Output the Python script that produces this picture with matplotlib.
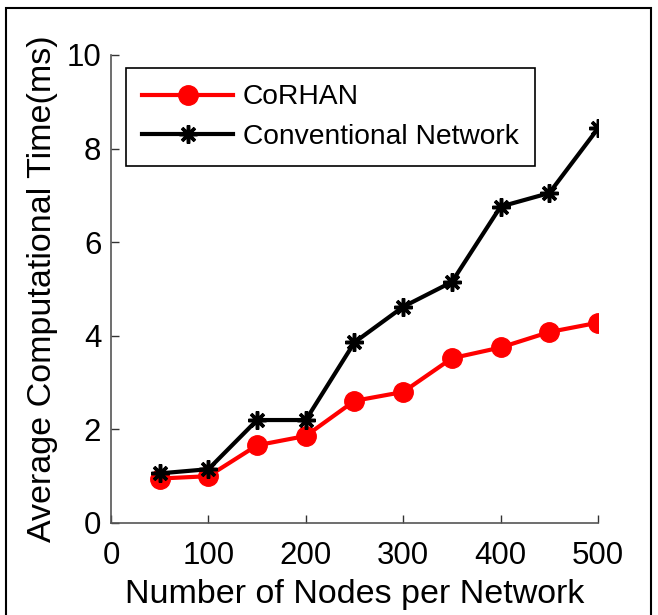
import matplotlib
matplotlib.use("Agg")
import matplotlib.pyplot as plt
from matplotlib.patches import Rectangle

plt.rcParams['font.family'] = ['Liberation Sans', 'DejaVu Sans']

nodes = [50, 100, 150, 200, 250, 300, 350, 400, 450, 500]
corhan = [0.95, 1.00, 1.66, 1.86, 2.61, 2.80, 3.52, 3.75, 4.08, 4.28]
conventional = [1.06, 1.15, 2.20, 2.20, 3.86, 4.62, 5.15, 6.76, 7.05, 8.43]
xticks = [0, 100, 200, 300, 400, 500]
yticks = [0, 2, 4, 6, 8, 10]

fig = plt.figure(figsize=(6.58, 6.15), dpi=100)
ax = fig.add_axes([0.1687, 0.1496, 0.7401, 0.761])

# thin frame around the whole figure
fig.patches.append(Rectangle((6 / 658, -0.05), 645 / 658, 1 - 8 / 615 + 0.05,
                             transform=fig.transFigure, fill=False,
                             edgecolor='black', linewidth=1.5))

ax.plot(nodes, corhan, color='#ff0000', linewidth=3, marker='o',
        markersize=14, label='CoRHAN')
ax.plot(nodes, conventional, color='black', linewidth=3, marker=(8, 2, 0),
        markersize=13, markeredgewidth=2.5, label='Conventional Network')

ax.set_xlim(0, 500)
ax.set_ylim(0, 10)
ax.set_xticks(xticks)
ax.set_yticks(yticks)
ax.tick_params(direction='in', length=6, width=1, colors='#333333',
               labelsize=22.5, labelcolor='black')
ax.tick_params(axis='x', pad=13)
ax.tick_params(axis='y', pad=7)
for side in ('top', 'right'):
    ax.spines[side].set_visible(False)
for side in ('left', 'bottom'):
    ax.spines[side].set_color('#555555')
    ax.spines[side].set_linewidth(1.2)

ax.set_xlabel('Number of Nodes per Network', fontsize=24.5, labelpad=6)
ax.set_ylabel('Average Computational Time(ms)', fontsize=24.5, labelpad=6)

leg = ax.legend(loc='upper left', bbox_to_anchor=(0.031, 0.972), fontsize=20.3,
                fancybox=False, framealpha=1, edgecolor='black',
                handlelength=3.2, handletextpad=0.35, borderpad=0.58,
                labelspacing=0.47, borderaxespad=0)
leg.get_frame().set_linewidth(1.2)

fig.savefig('out.png', dpi=100)
